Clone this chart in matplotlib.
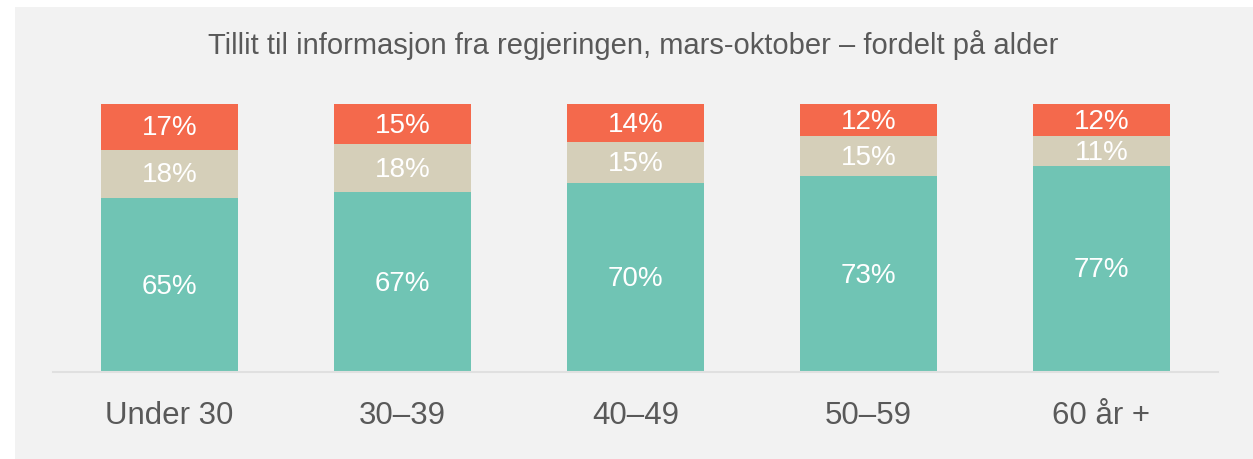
import numpy as np
import matplotlib.pyplot as plt

plt.rcParams['font.family'] = ['Liberation Sans', 'DejaVu Sans']

title = 'Tillit til informasjon fra regjeringen, mars-oktober \u2013 fordelt på alder'
groups = ['Under 30', '30\u201339', '40\u201349', '50\u201359', '60 år +']
high = [65, 67, 70, 73, 77]
middle = [18, 18, 15, 15, 11]
low = [17, 15, 14, 12, 12]

col_high = '#70c4b4'
col_mid = '#d5cfb9'
col_low = '#f4694c'
text_col = '#595959'
bg = '#f2f2f2'

fig = plt.figure(figsize=(12.53, 4.59), dpi=100)
fig.patch.set_facecolor('white')
# grey panel, leaving a thin white strip left and top
bg_ax = fig.add_axes([15/1253, 0, 1 - 15/1253, (459 - 7)/459], zorder=0)
bg_ax.set_facecolor(bg)
bg_ax.set_xticks([])
bg_ax.set_yticks([])
for s in bg_ax.spines.values():
    s.set_visible(False)

ax = fig.add_axes([53/1253, (459-372)/459, 1165/1253, 268/459], zorder=1)
ax.set_facecolor('none')

x = np.arange(len(groups))
w = 0.584
high = np.array(high); middle = np.array(middle); low = np.array(low)
# labels are rounded, scale each bar to a full 100 %
tot = (high + middle + low) / 100.0
h1, h2, h3 = high / tot, middle / tot, low / tot
ax.bar(x, h1, w, color=col_high)
ax.bar(x, h2, w, bottom=h1, color=col_mid)
ax.bar(x, h3, w, bottom=h1 + h2, color=col_low)

for i in range(len(groups)):
    segs = [(high[i], h1[i], 0), (middle[i], h2[i], h1[i]), (low[i], h3[i], h1[i] + h2[i])]
    for lab, h, base in segs:
        ax.text(x[i], base + h / 2 - 0.6, f'{lab}%', ha='center', va='center',
                color='white', fontsize=20)

ax.set_xlim(-0.5, 4.5)
ax.set_ylim(0, 100)
ax.set_yticks([])
ax.set_xticks(x)
ax.set_xticklabels(groups, fontsize=22.5, color=text_col)
ax.tick_params(axis='x', length=0, pad=21)
for s in ['top', 'right', 'left']:
    ax.spines[s].set_visible(False)
ax.spines['bottom'].set_color('#e0e0e0')
ax.spines['bottom'].set_linewidth(1.5)

fig.text(633/1253, 1 - 45/459, title, ha='center', va='center',
         fontsize=21, color=text_col)

fig.savefig('out.png', dpi=100, facecolor=fig.get_facecolor())
